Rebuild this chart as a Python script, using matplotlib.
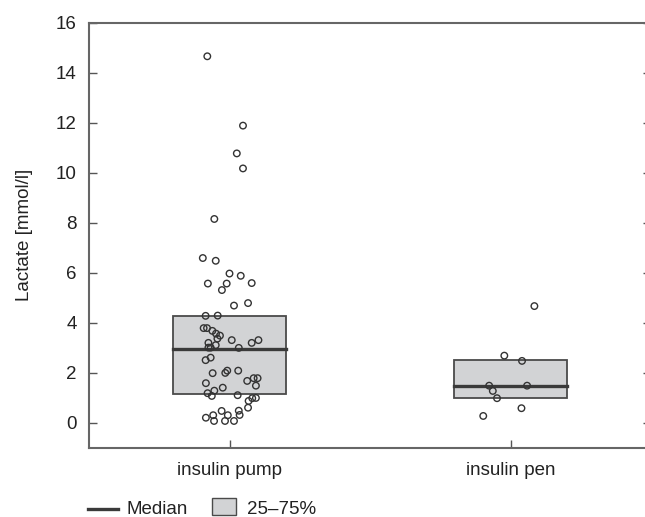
import matplotlib
matplotlib.use("Agg")
import matplotlib.pyplot as plt
from matplotlib.lines import Line2D
from matplotlib.patches import Rectangle
import numpy as np

plt.rcParams["font.family"] = ["Liberation Sans", "DejaVu Sans"]

groups = ["insulin pump", "insulin pen"]

# lactate values, with their horizontal jitter
pump_vals = [14.65, 11.88, 10.77, 10.17, 8.15,
             6.59, 6.48, 5.97, 5.88, 5.57, 5.57, 5.59, 5.31, 4.69, 4.79,
             4.28, 4.29, 3.79, 3.79, 3.68, 3.57, 3.49, 3.37, 3.20, 3.11,
             3.31, 3.20, 3.31, 3.01, 3.01, 3.00, 2.61, 2.51, 1.99, 2.00,
             2.09, 2.09, 1.59, 1.41, 1.68, 1.79, 1.79, 1.49, 1.19, 1.29,
             1.08, 1.11, 0.99, 1.00, 0.88, 0.61, 0.49, 0.48, 0.31, 0.31,
             0.32, 0.21, 0.08, 0.08, 0.08]
pump_jit = [-0.079, 0.048, 0.026, 0.048, -0.054,
            -0.095, -0.049, 0.000, 0.040, -0.077, -0.010, 0.079, -0.027, 0.016, 0.066,
            -0.085, -0.042, -0.092, -0.080, -0.061, -0.048, -0.034, -0.043, -0.075, -0.049,
            0.008, 0.079, 0.103, -0.075, -0.067, 0.033, -0.067, -0.085, -0.060, -0.015,
            -0.008, 0.031, -0.084, -0.024, 0.063, 0.086, 0.100, 0.094, -0.078, -0.054,
            -0.063, 0.029, 0.081, 0.094, 0.068, 0.066, 0.033, -0.028, -0.058, -0.006,
            0.036, -0.084, -0.055, -0.016, 0.016]

pen_vals = [4.67, 2.69, 2.48, 1.49, 1.49, 1.28, 0.99, 0.59, 0.28]
pen_jit = [0.085, -0.022, 0.041, -0.076, 0.059, -0.063, -0.048, 0.039, -0.097]

# quartiles and medians
q1 = [1.17, 0.99]
med = [2.97, 1.49]
q3 = [4.28, 2.50]

W, H = 645, 517
fig = plt.figure(figsize=(W / 100, H / 100), dpi=100)
ax = fig.add_axes([89 / W, 1 - 448 / H, 562 / W, 425.5 / H])

box_w = 0.4
for i in range(len(groups)):
    ax.add_patch(Rectangle((i - box_w / 2, q1[i]), box_w, q3[i] - q1[i],
                           facecolor="#d2d3d5", edgecolor="#4a4a4a",
                           linewidth=1.3, zorder=1))
    ax.plot([i - box_w / 2, i + box_w / 2], [med[i], med[i]],
            color="#3a3a3a", linewidth=2.4, zorder=2)

ax.scatter(np.array(pump_jit) + 0, pump_vals, s=22, facecolors="none",
           edgecolors="#333333", linewidths=1.0, zorder=3)
ax.scatter(np.array(pen_jit) + 1, pen_vals, s=22, facecolors="none",
           edgecolors="#333333", linewidths=1.0, zorder=3)

ax.set_xlim(-0.5, 1.5)
ax.set_ylim(-1, 16)
ax.set_yticks(range(0, 17, 2))
ax.set_xticks([0, 1])
ax.set_xticklabels(groups)
ax.set_ylabel("Lactate [mmol/l]", fontsize=13.5, color="#222222", labelpad=16)
ax.tick_params(axis="both", direction="in", length=6, width=1, color="#555555",
               labelsize=13.5, labelcolor="#222222", pad=9)
ax.tick_params(axis="x", pad=10)
ax.tick_params(axis="y", right=True)
for s in ax.spines.values():
    s.set_color("#666666")
    s.set_linewidth(1.5)

# legend drawn by hand in figure pixels
ly = 1 - 509 / H
fig.add_artist(Line2D([88 / W, 118 / W], [ly, ly], color="#3a3a3a",
                      linewidth=2.4, transform=fig.transFigure))
fig.text(127 / W, ly, "Median", fontsize=13.5, color="#222222",
         va="center", ha="left")
fig.add_artist(Rectangle((212 / W, 1 - 515 / H), 24 / W, 17 / H,
                         facecolor="#d2d3d5", edgecolor="#4a4a4a",
                         linewidth=1.0, transform=fig.transFigure))
fig.text(247 / W, ly, "25\u201375%", fontsize=13.5, color="#222222",
         va="center", ha="left")

fig.savefig("out.png", dpi=100)
